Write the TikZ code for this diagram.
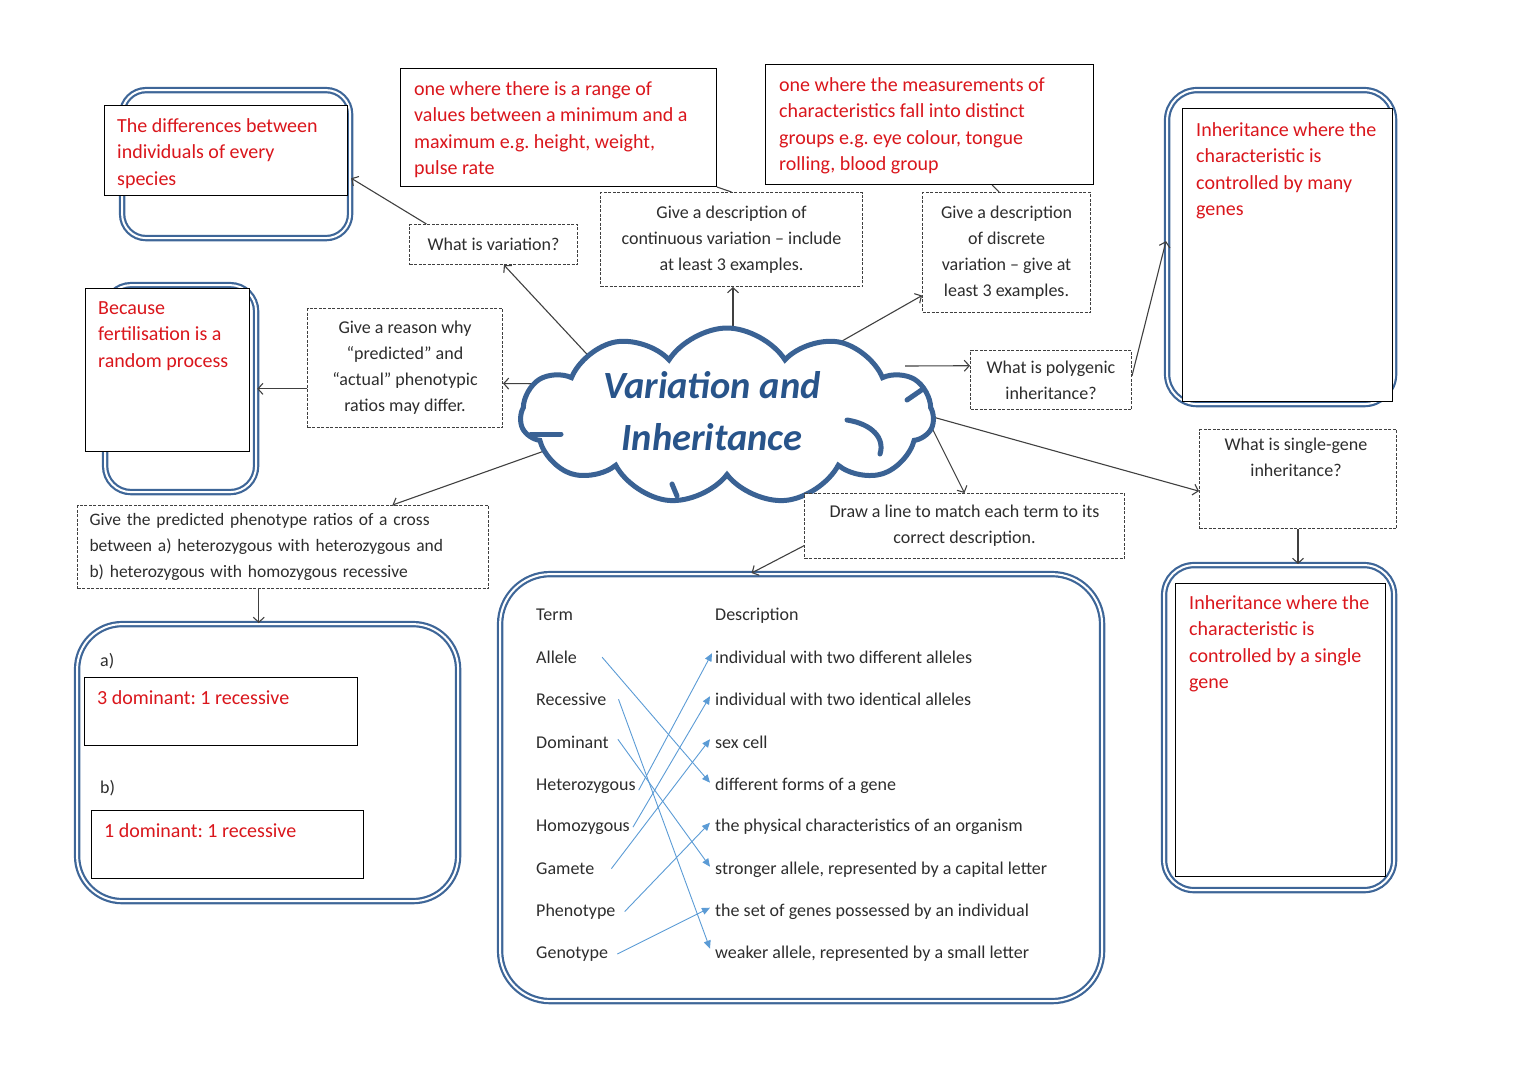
\documentclass[tikz,border=0pt]{standalone}
\usepackage{fontspec}
\setmainfont{Carlito}
\usetikzlibrary{shapes.symbols,arrows.meta}
\definecolor{redtxt}{RGB}{218,22,28}
\definecolor{bluebd}{RGB}{62,102,152}
\definecolor{cloudbd}{RGB}{58,98,148}
\definecolor{titleblue}{RGB}{40,84,138}
\definecolor{qtxt}{RGB}{45,45,45}
\definecolor{matchblue}{RGB}{91,155,213}
\newcommand\qfnt{\fontsize{18}{26}\selectfont}
\newcommand\pfnt{\fontsize{17.5}{26}\selectfont}
\newcommand\rfnt{\fontsize{20}{26.5}\selectfont}
\newcommand\tfnt{\fontsize{18}{22}\selectfont}
\pgfdeclarelayer{bg}
\pgfsetlayers{bg,main}
\frenchspacing
\begin{document}
\begin{tikzpicture}[x=1pt,y=-1pt,
  dblbox/.style={draw=bluebd, line width=2.2pt, double=white, double distance=2pt, rounded corners=#1, anchor=north west, inner sep=0pt},
  redbox/.style={draw=black, line width=1pt, fill=white, anchor=north west, inner sep=0pt},
  redtext/.style={anchor=north west, inner sep=0pt, align=left, text=redtxt, font=\rfnt},
  qbox/.style={draw=black!75, line width=1pt, dash pattern=on 3pt off 1.5pt, align=center, font=\qfnt, text=qtxt, inner sep=0pt, anchor=north west, fill=white},
  conn/.style={draw=black!75, line width=1.1pt, -{Straight Barb[length=5pt,width=11pt]}},
  plain/.style={draw=black!75, line width=1.1pt},
  term/.style={anchor=mid west, inner sep=0pt, font=\tfnt, text=qtxt},
  match/.style={draw=matchblue, line width=0.9pt, -{Triangle[length=8pt,width=7pt]}},
  cloudarc/.style={draw=cloudbd, line width=5pt, line cap=round}
]
\useasboundingbox (0,0) rectangle (1526,1080);

% ---------- cloud ----------
\node[cloud, cloud puffs=11, cloud puff arc=115, aspect=2.3, draw=cloudbd, line width=5pt, fill=white,
      minimum width=413, minimum height=176, inner sep=0pt] (cloud) at (727,416) {};
\draw[cloudarc] ([shift={(-196,18)}]cloud.center) -- ([shift={(-166,18)}]cloud.center);
\draw[cloudarc] ([shift={(120,4)}]cloud.center) .. controls ([shift={(145,8)}]cloud.center) and ([shift={(158,22)}]cloud.center) .. ([shift={(153,38)}]cloud.center);
\draw[cloudarc] ([shift={(180,-16)}]cloud.center) -- ([shift={(196,-27)}]cloud.center);
\draw[cloudarc] ([shift={(-55,68)}]cloud.center) -- ([shift={(-50,80)}]cloud.center);
\node[font=\fontsize{38.5}{52}\selectfont\bfseries\itshape, text=titleblue, align=center, inner sep=0pt] (title) at (712,411) {Variation and\\Inheritance};

% attachment points on the cloud
\coordinate (cV) at ([shift={(-130,-51)}]cloud.center);
\coordinate (cC) at ([shift={(6,-60)}]cloud.center);
\coordinate (cD) at ([shift={(108,-71)}]cloud.center);
\coordinate (cP) at ([shift={(178,-50)}]cloud.center);
\coordinate (cS) at ([shift={(188,-4)}]cloud.center);
\coordinate (cM) at ([shift={(203,8)}]cloud.center);
\coordinate (cR) at ([shift={(-152,-32)}]cloud.center);
\coordinate (cG) at ([shift={(-180,34)}]cloud.center);

% ---------- double boxes ----------
\node[dblbox=24, minimum width=228, minimum height=148] (tlbox) at (121,89) {};
\node[redbox, minimum width=243, minimum height=90] (tlred) at (104,105) {};
\node[redtext] (tltxt) at (117,118) {The differences between\\individuals of every\\species};

\node[dblbox=26, minimum width=151, minimum height=207] (lmbox) at (104,284) {};
\node[redbox, minimum width=164, minimum height=163] (lmred) at (85,288) {};
\node[redtext] (lmtxt) at (98,301) {Because\\fertilisation is a\\random process};

\node[dblbox=30, minimum width=227, minimum height=314] (trbox) at (1166,89) {};
\node[redbox, minimum width=210, minimum height=293] (trred) at (1182,108) {};
\node[redtext] (trtxt) at (1196,122) {Inheritance where the\\characteristic is\\controlled by many\\genes};

\node[dblbox=30, minimum width=230, minimum height=325] (brbox) at (1163,564) {};
\node[redbox, minimum width=210, minimum height=293] (brred) at (1175,583) {};
\node[redtext] (brtxt) at (1189,595) {Inheritance where the\\characteristic is\\controlled by a single\\gene};

\node[dblbox=45, minimum width=381, minimum height=277] (blbox) at (76,623) {};
\node[term] (la) at (100,664) {a)};
\node[redbox, minimum width=273, minimum height=68] (rabox) at (84,677) {};
\node[redtext] (ratxt) at (97,690) {3 dominant: 1 recessive};
\node[term] (lb) at (100,791) {b)};
\node[redbox, minimum width=272, minimum height=68] (rbbox) at (91,810) {};
\node[redtext] (rbtxt) at (104,823) {1 dominant: 1 recessive};

\node[dblbox=50, minimum width=602, minimum height=427] (mbox) at (499,573) {};

% ---------- red answer boxes (top) ----------
\node[redbox, minimum width=316, minimum height=118] (contred) at (400,68) {};
\node[redtext] (conttxt) at (414,81) {one where there is a range of\\values between a minimum and a\\maximum e.g. height, weight,\\pulse rate};
\node[redbox, minimum width=328, minimum height=120] (discred) at (765,64) {};
\node[redtext] (disctxt) at (779,77) {one where the measurements of\\characteristics fall into distinct\\groups e.g. eye colour, tongue\\rolling, blood group};

% ---------- question boxes ----------
\node[qbox, minimum width=168, minimum height=40] (q1) at (409,224) {What is variation?};
\node[qbox, minimum width=262, minimum height=94] (qcont) at (600,192) {Give a description of\\continuous variation -- include\\at least 3 examples.};
\node[qbox, minimum width=168, minimum height=120] (qdisc) at (922,192) {Give a description\\of discrete\\variation -- give at\\least 3 examples.};
\node[qbox, minimum width=195, minimum height=119] (qreason) at (307,308) {Give a reason why\\“predicted” and\\“actual” phenotypic\\ratios may differ.};
\node[qbox, minimum width=161, minimum height=59] (qpoly) at (970,350) {What is polygenic\\inheritance?};
\node[qbox, minimum width=197, minimum height=99] (qsingle) at (1199,429) {};
\node[align=center, font=\qfnt, text=qtxt, inner sep=0pt] (qsingletxt) at (1296,457) {What is single-gene\\inheritance?};
\node[qbox, minimum width=320, minimum height=65] (qdraw) at (804,493) {Draw a line to match each term to its\\correct description.};
\node[qbox, minimum width=411, minimum height=83, align=left, text width=387, inner xsep=12pt, font=\pfnt] (qpred) at (77,505) {Give the predicted phenotype ratios of a cross\\between a) heterozygous with heterozygous and\\b) heterozygous with homozygous recessive};

% ---------- connectors ----------
\begin{pgfonlayer}{bg}
\draw[conn] (cV) -- (q1.-63);
\draw[conn] (cC) -- (cC |- qcont.south);
\draw[conn] (cD) -- (qdisc.207.6);
\draw[conn] (cP) -- (qpoly.170.5);
\draw[conn] (cS) -- (qsingle.187.2);
\draw[conn] (cM) -- (qdraw.north);
\draw[conn] (cR) -- (qreason.-9.6);
\draw[conn] (cG) -- (qpred.21.1);
\end{pgfonlayer}
\draw[conn] (q1.163) -- (tlbox.-7);
\draw[plain] (qcont.north) -- (contred.south east);
\draw[plain] (qdisc.97.6) -- (discred.-44.5);
\draw[conn] (qpoly.3.2) -- (trbox.177);
\draw[conn] (qsingle.south) -- (qsingle.south |- brbox.north);
\draw[conn] (qdraw.187) -- (mbox.103.8);
\draw[conn] (qreason.192) -- (qreason.192 -| lmbox.east);
\draw[conn] (qpred.-120.5) -- (qpred.-120.5 |- blbox.north);

% ---------- matching exercise ----------
\node[term] (hTerm) at (536,618) {Term};
\node[term] (hDesc) at (715,618) {Description};
\node[term] (tAllele) at (536,661) {Allele};
\node[term] (tRec) at (536,703) {Recessive};
\node[term] (tDom) at (536,746) {Dominant};
\node[term] (tHet) at (536,788) {Heterozygous};
\node[term] (tHom) at (536,829) {Homozygous};
\node[term] (tGam) at (536,872) {Gamete};
\node[term] (tPhe) at (536,914) {Phenotype};
\node[term] (tGen) at (536,956) {Genotype};
\node[term] (d1) at (715,661) {individual with two different alleles};
\node[term] (d2) at (715,703) {individual with two identical alleles};
\node[term] (d3) at (715,746) {sex cell};
\node[term] (d4) at (715,788) {different forms of a gene};
\node[term] (d5) at (715,829) {the physical characteristics of an organism};
\node[term] (d6) at (715,872) {stronger allele, represented by a capital letter};
\node[term] (d7) at (715,914) {the set of genes possessed by an individual};
\node[term] (d8) at (715,956) {weaker allele, represented by a small letter};

\draw[match] ([xshift=25pt]tAllele.east) -- ([xshift=-5pt,yshift=3pt]d4.west);
\draw[match] ([xshift=12pt]tRec.east) -- ([xshift=-5pt,yshift=5pt]d8.west);
\draw[match] ([xshift=9pt,yshift=3pt]tDom.east) -- ([xshift=-5pt,yshift=3pt]d6.west);
\draw[match] ([xshift=3pt,yshift=-4pt]tHet.east) -- ([xshift=-3pt,yshift=4pt]d1.west);
\draw[match] ([xshift=3pt]tHom.east) -- ([xshift=-5pt,yshift=3pt]d2.west);
\draw[match] ([xshift=17pt]tGam.east) -- ([xshift=-5pt,yshift=3pt]d3.west);
\draw[match] ([xshift=9pt]tPhe.east) -- ([xshift=-5pt,yshift=4pt]d5.west);
\draw[match] ([xshift=9pt]tGen.east) -- ([xshift=-5pt,yshift=4pt]d7.west);
\end{tikzpicture}
\end{document}
